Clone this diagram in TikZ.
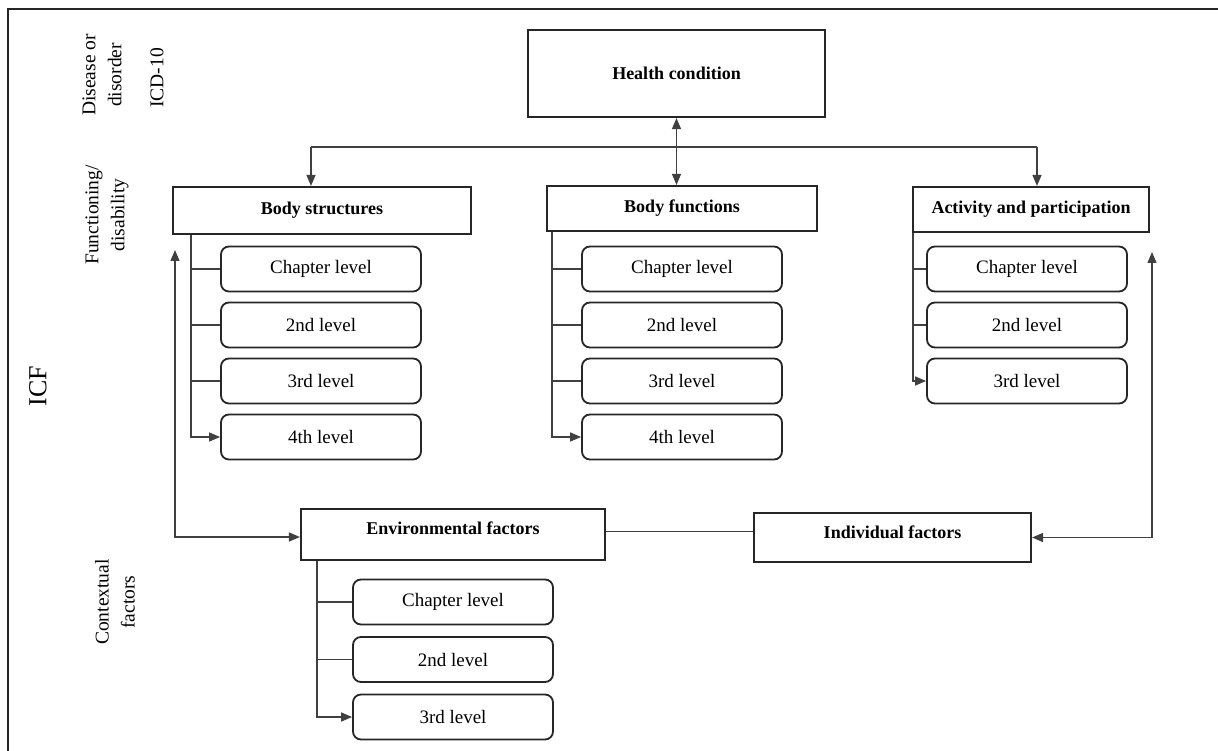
\documentclass[tikz,border=0pt]{standalone}
\usepackage{fontspec}
\setmainfont{Liberation Serif}
\usetikzlibrary{arrows.meta}
\tikzset{
	mainbox/.style={draw=black!85, line width=2.1pt, inner sep=0pt, font=\fontsize{18}{21}\selectfont\bfseries},
	lvlbox/.style={draw=black!85, line width=1.8pt, rounded corners=8pt, minimum width=200pt, minimum height=45pt, inner sep=0pt, font=\fontsize{19}{22}\selectfont},
	wire/.style={line width=1.3pt, draw=black!75},
	arr/.style={wire, -{Triangle[length=11pt,width=9pt]}},
	dblarr/.style={wire, {Triangle[length=11pt,width=9pt]}-{Triangle[length=11pt,width=9pt]}},
	side/.style={rotate=90, align=center, inner sep=0pt, font=\fontsize{19.5}{26}\selectfont}
}
\begin{document}
\begin{tikzpicture}[x=1pt, y=-1pt]
	\useasboundingbox (0,0) rectangle (1218,751);
	% Frame
	\draw[line width=2pt, black!85] (8,760) -- (8,9) -- (1230,9);
	% Side labels
	\node[side] (dis) at (102,75) {Disease or\\disorder};
	\node[side] (icd) at (157,78) {ICD-10};
	\node[side] (fun) at (107,215) {Functioning/\\disability};
	\node[side, font=\fontsize{26}{30}\selectfont] (icf) at (38,386) {ICF};
	\node[side] (ctx) at (115,602) {Contextual\\factors};
	% Components
	\node[mainbox, minimum width=297pt, minimum height=87pt] (hc) at (676.5,73.5) {Health condition};
	\node[mainbox, minimum width=298pt, minimum height=47pt] (bs) at (322,210.5) {Body structures};
	\node[mainbox, minimum width=270pt, minimum height=45pt] (bf) at (682,208.5) {Body functions};
	\node[mainbox, minimum width=236pt, minimum height=45pt] (ap) at (1031,209.5) {Activity and participation};
	\node[mainbox, minimum width=304pt, minimum height=51pt, text depth=12pt] (ef) at (453,534.5) {Environmental factors};
	\node[mainbox, minimum width=277pt, minimum height=49pt, text depth=10pt] (if) at (892.5,537.5) {Individual factors};
	% Levels
	\foreach \t [count=\i] in {Chapter level,2nd level,3rd level,4th level}{
		\node[lvlbox] (bs\i) at (321,213+56*\i) {\t};
		\node[lvlbox] (bf\i) at (682,213+56*\i) {\t};
	}
	\foreach \t [count=\i] in {Chapter level,2nd level,3rd level}{
		\node[lvlbox] (ap\i) at (1027,213+56*\i) {\t};
		\node[lvlbox] (ef\i) at (453,544.5+57.5*\i) {\t};
	}
	% Trees
	\foreach \i in {1,2,3}{
		\draw[wire] ([xshift=19pt]bs.south west) |- (bs\i.west);
		\draw[wire] ([xshift=6pt]bf.south west) |- (bf\i.west);
	}
	\draw[arr] ([xshift=19pt]bs.south west) |- (bs4.west);
	\draw[arr] ([xshift=6pt]bf.south west) |- (bf4.west);
	\foreach \i in {1,2}{
		\draw[wire] ([xshift=1pt]ap.south west) |- (ap\i.west);
		\draw[wire] ([xshift=17pt]ef.south west) |- (ef\i.west);
	}
	\draw[arr] ([xshift=1pt]ap.south west) |- (ap3.west);
	\draw[arr] ([xshift=17pt]ef.south west) |- (ef3.west);
	% Links
	\coordinate (jl) at (311,147);
	\coordinate (jr) at (1037,147);
	\draw[wire] (jl) -- (jr);
	\draw[arr] (jl) -- (jl |- bs.north);
	\draw[arr] (jr) -- (jr |- ap.north);
	\draw[dblarr] (hc.south) -- (hc.south |- bf.north);
	\coordinate (lt) at (175,250);
	\coordinate (rt) at (1152,252);
	\draw[dblarr] (lt) |- ([yshift=-2.5pt]ef.west);
	\draw[dblarr] (rt) |- (if.east);
	\draw[wire] ([yshift=3pt]ef.east) -- ([yshift=3pt]ef.east -| if.west);
\end{tikzpicture}
\end{document}
